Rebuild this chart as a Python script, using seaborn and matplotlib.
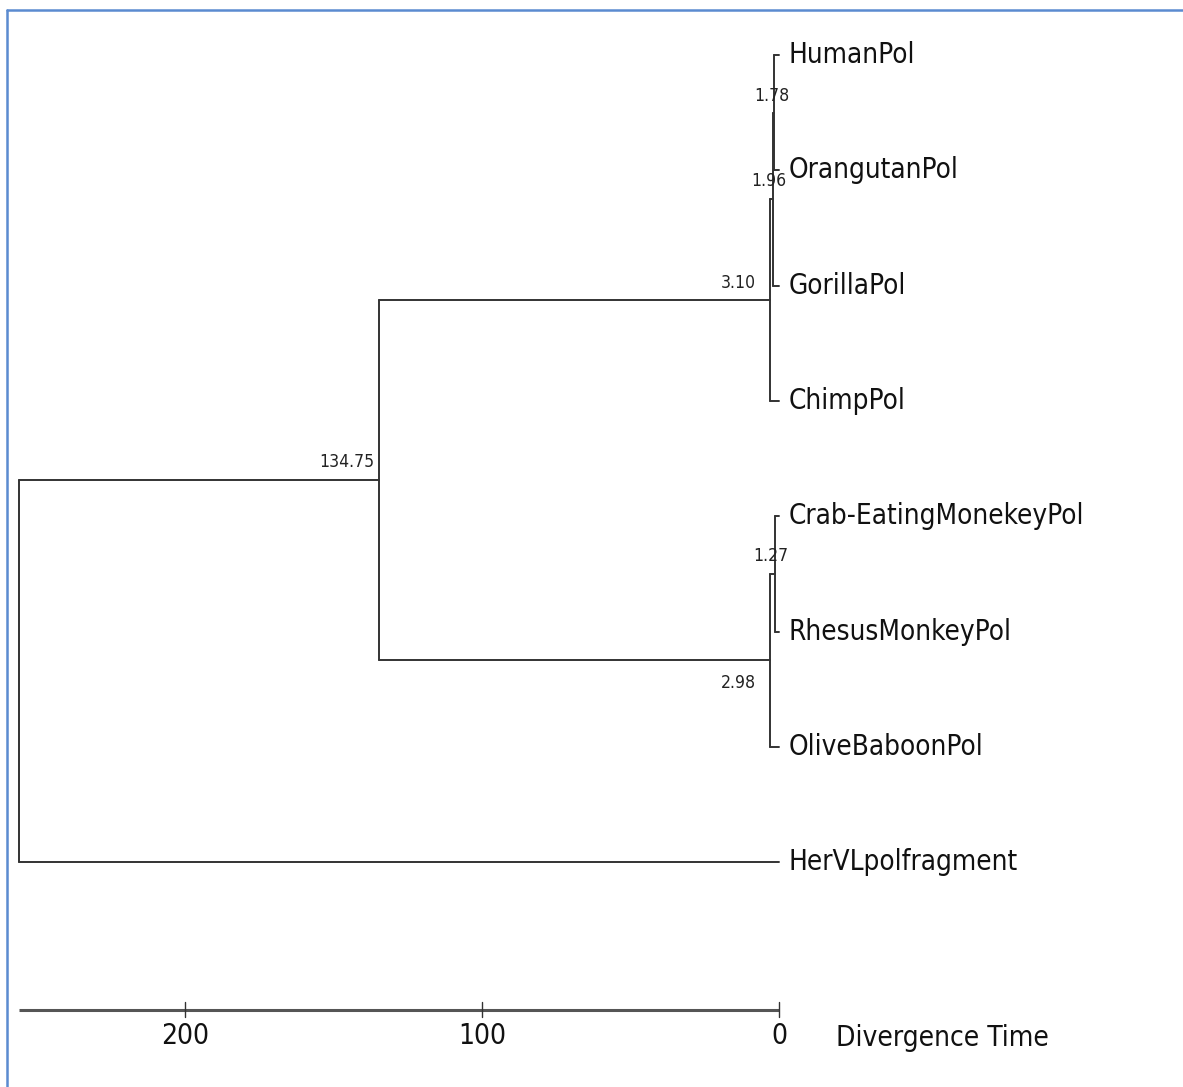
import numpy as np
import pandas as pd
import matplotlib
matplotlib.use('Agg')
import matplotlib.pyplot as plt
from matplotlib import font_manager
from matplotlib.textpath import TextPath
import seaborn as sns

# leaves, top to bottom
leaves = ['HumanPol', 'OrangutanPol', 'GorillaPol', 'ChimpPol',
          'Crab-EatingMonekeyPol', 'RhesusMonkeyPol', 'OliveBaboonPol',
          'HerVLpolfragment']

# internal nodes (children given by leaf name or node name)
node_names = ['n178', 'n196', 'n310', 'n127', 'n298', 'n13475', 'root']
node_ages = [1.78, 1.96, 3.10, 1.27, 2.98, 134.75, 256.0]
node_children = [('HumanPol', 'OrangutanPol'),
                 ('n178', 'GorillaPol'),
                 ('n196', 'ChimpPol'),
                 ('Crab-EatingMonekeyPol', 'RhesusMonkeyPol'),
                 ('n127', 'OliveBaboonPol'),
                 ('n310', 'n298'),
                 ('n13475', 'HerVLpolfragment')]
node_labels = ['1.78', '1.96', '3.10', '1.27', '2.98', '134.75', '']

scale_ticks = [200, 100, 0]
scale_title = 'Divergence Time'

sns.set_theme(style='white')

# look for a narrow face, the original uses a condensed font
narrow = None
for f in font_manager.fontManager.ttflist:
    nm = f.name.lower()
    if 'narrow' in nm or 'condensed' in nm or f.stretch in ('condensed', 'semi-condensed'):
        if f.style == 'normal' and f.weight in (400, 'normal', 'regular'):
            narrow = f
            break

if narrow is not None:
    text_font = font_manager.FontProperties(fname=narrow.fname)
else:
    text_font = font_manager.FontProperties(family='Liberation Sans')


def size_for(txt, width_px):
    # font size (pt) that gives the text this ink width in pixels
    w = TextPath((0, 0), txt, size=10, prop=text_font).get_extents().width
    return 10 * width_px * 0.72 / w


leaf_size = size_for('Crab-EatingMonekeyPol', 291)
axis_size = size_for('Divergence Time', 209)
node_size = size_for('134.75', 52)

fig = plt.figure(figsize=(11.83, 10.87), dpi=100)
ax = fig.add_axes([0, 0, 1, 1])

# node coordinates
age = {n: 0.0 for n in leaves}
ypos = {n: float(i) for i, n in enumerate(leaves)}
for name, a, ch in zip(node_names, node_ages, node_children):
    age[name] = a
    ypos[name] = np.mean([ypos[c] for c in ch])

parent = {}
for name, ch in zip(node_names, node_children):
    for c in ch:
        parent[c] = name

segs = []
k = 0
for name, ch in zip(node_names, node_children):
    ys = [ypos[c] for c in ch]
    segs += [(k, age[name], min(ys)), (k, age[name], max(ys))]
    k += 1
for child, par in parent.items():
    segs += [(k, age[par], ypos[child]), (k, age[child], ypos[child])]
    k += 1
df = pd.DataFrame(segs, columns=['seg', 'x', 'y'])

sns.lineplot(data=df, x='x', y='y', units='seg', estimator=None, sort=False,
             color='#333333', linewidth=1.4, ax=ax, legend=False)


def put(txt, xy, off, ha, size, color='#111111'):
    fp = text_font.copy()
    fp.set_size(size)
    ax.annotate(txt, xy, xytext=off, textcoords='offset points',
                ha=ha, va='center', fontproperties=fp, color=color)


# leaf labels
for n in leaves:
    put(n, (0, ypos[n]), (7, 0), 'left', leaf_size)

# node labels
label_off = {'1.78': (-1.5, 12, 'center'), '1.96': (-3, 13, 'center'),
             '3.10': (-10, 12, 'right'), '1.27': (-3.5, 13, 'center'),
             '2.98': (-10, -16, 'right'), '134.75': (-3.5, 13, 'right')}
for name, lab in zip(node_names, node_labels):
    if not lab:
        continue
    dx, dy, ha = label_off[lab]
    put(lab, (age[name], ypos[name]), (dx, dy), ha, node_size, '#222222')

# scale bar
bar_y = (1010 - 55) / 115.3
root_age = node_ages[-1]
ax.plot([root_age, 0], [bar_y, bar_y], color='#555555', linewidth=2.2,
        solid_capstyle='butt')
for t in scale_ticks:
    ax.plot([t, t], [bar_y - 0.07, bar_y + 0.06], color='#333333', linewidth=1.0)
    put(str(t), (t, bar_y), (0, -19), 'center', axis_size)
put(scale_title, (0, bar_y), (41, -20), 'left', axis_size)

ax.set_xlim(779 / 2.97, -(1183 - 779) / 2.97)
ax.set_ylim((1087 - 55) / 115.3, -55 / 115.3)
ax.axis('off')

# blue frame (top and left)
fig.add_artist(plt.Line2D([7 / 1183, 7 / 1183], [0, 1 - 10 / 1087],
                          color='#5b8bd0', linewidth=1.8))
fig.add_artist(plt.Line2D([7 / 1183, 1], [1 - 10 / 1087, 1 - 10 / 1087],
                          color='#5b8bd0', linewidth=1.8))

fig.savefig('out.png', dpi=100)
